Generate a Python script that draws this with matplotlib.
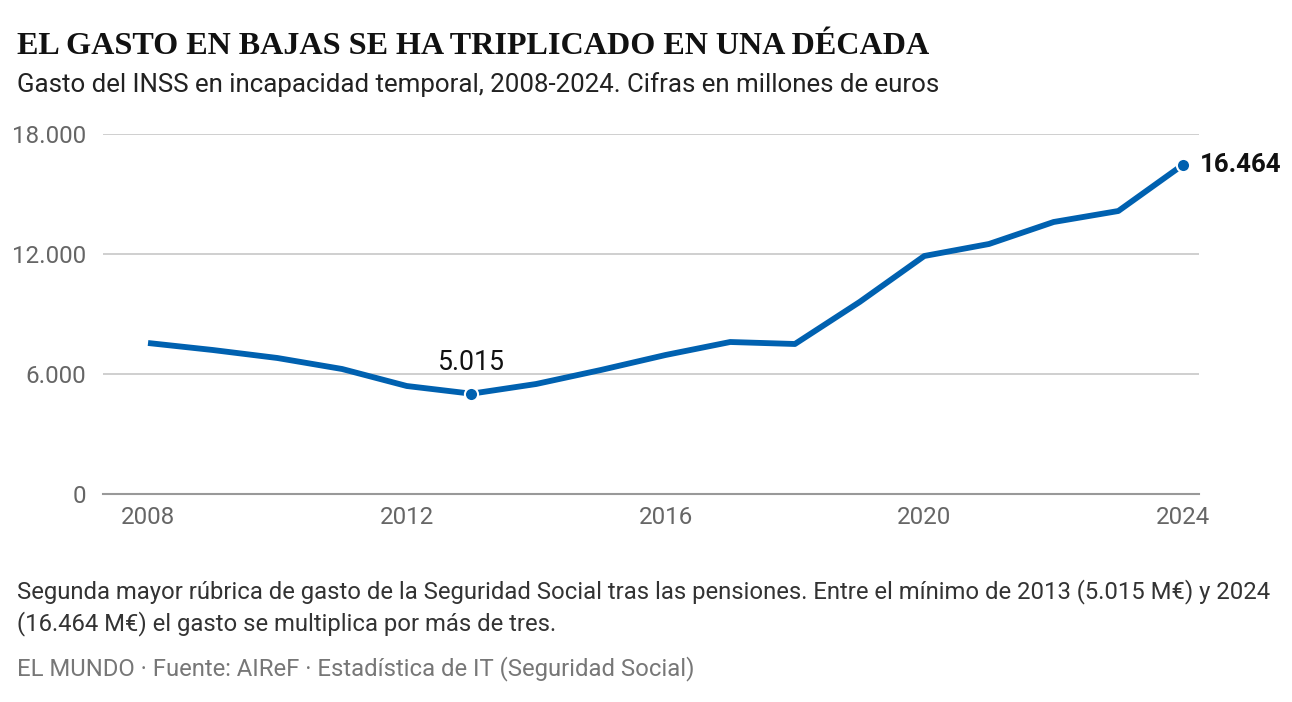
import matplotlib.pyplot as plt
import matplotlib.ticker as mticker

# Data (millions of euros)
years = list(range(2008, 2025))
gasto = [7550, 7200, 6800, 6250, 5400, 5015, 5500, 6200, 6950, 7600,
         7500, 9600, 11900, 12500, 13600, 14150, 16464]
yticks = [0, 6000, 12000, 18000]
xticks = [2008, 2012, 2016, 2020, 2024]

W, H = 1292, 702
fig = plt.figure(figsize=(W / 100, H / 100), dpi=100)
plt.rcParams['font.family'] = ['Roboto', 'DejaVu Sans']

def fx(px):
    return px / W

def fy(py):
    return 1 - py / H

# Axes placed so that 0 sits at y=494 and 18000 at y=134
ax = fig.add_axes([fx(103), fy(494), fx(1199 - 103), (494 - 134) / H])
blue = '#0061b0'
ax.plot(years, gasto, color=blue, lw=4.2, solid_capstyle='butt',
        solid_joinstyle='round', zorder=3)

# Highlighted points
i_min = gasto.index(min(gasto))
for i in (i_min, len(gasto) - 1):
    ax.plot(years[i], gasto[i], 'o', ms=9.5, color=blue,
            mec='white', mew=1.5, zorder=4)

def fmt(v):
    return f'{v:,.0f}'.replace(',', '.')

ax.annotate(fmt(gasto[i_min]), (years[i_min], gasto[i_min]),
            xytext=(0, 13), textcoords='offset points', ha='center',
            va='bottom', fontsize=19.2, color='#111111')
ax.annotate(fmt(gasto[-1]), (years[-1], gasto[-1]),
            xytext=(12, 0), textcoords='offset points', ha='left',
            va='center', fontsize=18.6, fontweight='bold', color='#111111')

ax.set_xlim(2007.304, 2024.247)
ax.set_ylim(0, 18000)
ax.set_yticks(yticks)
ax.set_xticks(xticks)
ax.yaxis.set_major_formatter(mticker.FuncFormatter(lambda v, p: fmt(v)))
ax.tick_params(axis='both', length=0, labelsize=17.4, labelcolor='#666666')
ax.tick_params(axis='y', pad=12)
ax.tick_params(axis='x', pad=9)
ax.grid(axis='y', color='#cccccc', lw=1.3)
ax.set_axisbelow(True)
for s in ['top', 'right', 'left']:
    ax.spines[s].set_visible(False)
ax.spines['bottom'].set_color('#999999')
ax.spines['bottom'].set_linewidth(1.5)
ax.spines['bottom'].set_zorder(2)

# Titles and notes
fig.text(fx(17), fy(47), 'EL GASTO EN BAJAS SE HA TRIPLICADO EN UNA DÉCADA',
         family=['Liberation Serif', 'DejaVu Serif'], fontweight='bold',
         fontsize=23.1, color='#111111', va='center', ha='left')
fig.text(fx(17), fy(85),
         'Gasto del INSS en incapacidad temporal, 2008-2024. Cifras en millones de euros',
         fontsize=18.6, color='#222222', va='center', ha='left')
fig.text(fx(17), fy(592),
         'Segunda mayor rúbrica de gasto de la Seguridad Social tras las pensiones. '
         'Entre el mínimo de 2013 (5.015 M€) y 2024',
         fontsize=17.2, color='#333333', va='center', ha='left')
fig.text(fx(17), fy(624), '(16.464 M€) el gasto se multiplica por más de tres.',
         fontsize=17.2, color='#333333', va='center', ha='left')
fig.text(fx(17), fy(669),
         'EL MUNDO · Fuente: AIReF · Estadística de IT (Seguridad Social)',
         fontsize=17.2, color='#777777', va='center', ha='left')

fig.savefig('out.png', dpi=100, facecolor='white')
